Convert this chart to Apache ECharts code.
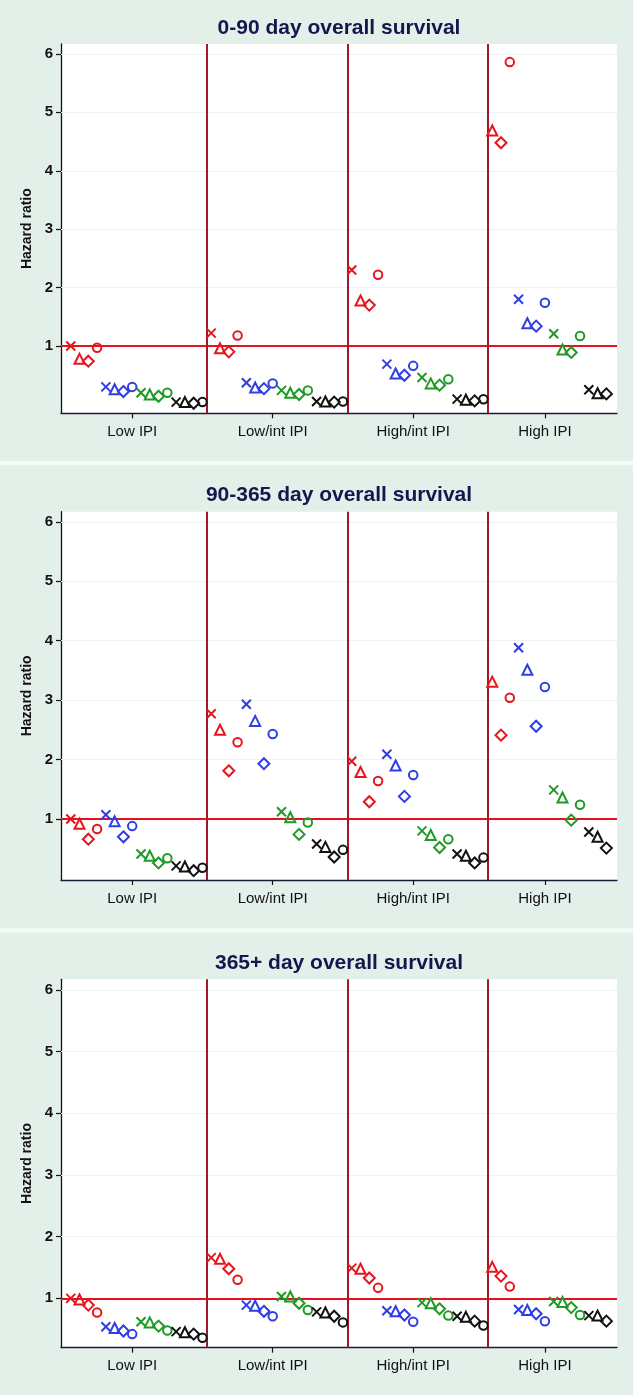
<!DOCTYPE html>
<html>
<head>
<meta charset="utf-8">
<script src="https://cdn.jsdelivr.net/npm/echarts@6/dist/echarts.min.js"></script>
<style>
html,body{margin:0;padding:0;background:#e3f0ea;}
#chart{width:633px;height:1395px;}
</style>
</head>
<body>
<div id="chart"></div>
<script>
// ---------- categories / ticks ----------
const groups = ['Low IPI', 'Low/int IPI', 'High/int IPI', 'High IPI'];
const groupTickPos = [8, 24, 40, 55];
const dividerPos = [16.5, 32.5, 48.5];
const yTickValues = [1, 2, 3, 4, 5, 6];
const panelTitles = ['0-90 day overall survival', '90-365 day overall survival', '365+ day overall survival'];
const colorNames = ['red', 'blue', 'green', 'black'];
const markerNames = ['x', 'tri', 'dia', 'circ'];

// ---------- Panel 1: 0-90 day (values per group: Low, Low/int, High/int, High) ----------
const p1_red_x     = [1.00, 1.22, 2.30, null];
const p1_red_tri   = [0.78, 0.96, 1.78, 4.69];
const p1_red_dia   = [0.74, 0.90, 1.70, 4.48];
const p1_red_circ  = [0.97, 1.18, 2.22, 5.86];
const p1_blue_x    = [0.30, 0.37, 0.69, 1.80];
const p1_blue_tri  = [0.26, 0.29, 0.53, 1.39];
const p1_blue_dia  = [0.22, 0.27, 0.50, 1.34];
const p1_blue_circ = [0.30, 0.36, 0.66, 1.74];
const p1_green_x    = [0.20, 0.24, 0.46, 1.21];
const p1_green_tri  = [0.17, 0.20, 0.36, 0.94];
const p1_green_dia  = [0.14, 0.17, 0.33, 0.89];
const p1_green_circ = [0.20, 0.24, 0.43, 1.17];
const p1_black_x    = [0.04, 0.05, 0.09, 0.25];
const p1_black_tri  = [0.04, 0.05, 0.08, 0.19];
const p1_black_dia  = [0.02, 0.04, 0.06, 0.18];
const p1_black_circ = [0.04, 0.05, 0.09, null];

// ---------- Panel 2: 90-365 day ----------
const p2_red_x     = [1.00, 2.77, 1.97, null];
const p2_red_tri   = [0.92, 2.50, 1.79, 3.31];
const p2_red_dia   = [0.66, 1.81, 1.29, 2.41];
const p2_red_circ  = [0.83, 2.29, 1.64, 3.04];
const p2_blue_x    = [1.07, 2.93, 2.09, 3.88];
const p2_blue_tri  = [0.96, 2.65, 1.90, 3.51];
const p2_blue_dia  = [0.70, 1.93, 1.38, 2.56];
const p2_blue_circ = [0.88, 2.43, 1.74, 3.22];
const p2_green_x    = [0.41, 1.12, 0.80, 1.49];
const p2_green_tri  = [0.38, 1.03, 0.73, 1.36];
const p2_green_dia  = [0.26, 0.74, 0.52, 0.98];
const p2_green_circ = [0.34, 0.94, 0.66, 1.24];
const p2_black_x    = [0.21, 0.58, 0.41, 0.78];
const p2_black_tri  = [0.20, 0.53, 0.38, 0.70];
const p2_black_dia  = [0.13, 0.36, 0.26, 0.51];
const p2_black_circ = [0.18, 0.48, 0.35, null];

// ---------- Panel 3: 365+ day ----------
const p3_red_x     = [1.00, 1.66, 1.49, null];
const p3_red_tri   = [0.98, 1.64, 1.48, 1.51];
const p3_red_dia   = [0.89, 1.48, 1.33, 1.36];
const p3_red_circ  = [0.77, 1.30, 1.17, 1.19];
const p3_blue_x    = [0.54, 0.89, 0.80, 0.82];
const p3_blue_tri  = [0.52, 0.88, 0.79, 0.81];
const p3_blue_dia  = [0.47, 0.79, 0.73, 0.75];
const p3_blue_circ = [0.42, 0.71, 0.62, 0.63];
const p3_green_x    = [0.62, 1.03, 0.93, 0.95];
const p3_green_tri  = [0.61, 1.03, 0.92, 0.94];
const p3_green_dia  = [0.55, 0.92, 0.83, 0.85];
const p3_green_circ = [0.48, 0.81, 0.72, 0.73];
const p3_black_x    = [0.46, 0.78, 0.71, 0.72];
const p3_black_tri  = [0.45, 0.77, 0.70, 0.72];
const p3_black_dia  = [0.42, 0.71, 0.63, 0.63];
const p3_black_circ = [0.36, 0.61, 0.56, null];

const panelData = [
  {red:{x:p1_red_x,tri:p1_red_tri,dia:p1_red_dia,circ:p1_red_circ},
   blue:{x:p1_blue_x,tri:p1_blue_tri,dia:p1_blue_dia,circ:p1_blue_circ},
   green:{x:p1_green_x,tri:p1_green_tri,dia:p1_green_dia,circ:p1_green_circ},
   black:{x:p1_black_x,tri:p1_black_tri,dia:p1_black_dia,circ:p1_black_circ}},
  {red:{x:p2_red_x,tri:p2_red_tri,dia:p2_red_dia,circ:p2_red_circ},
   blue:{x:p2_blue_x,tri:p2_blue_tri,dia:p2_blue_dia,circ:p2_blue_circ},
   green:{x:p2_green_x,tri:p2_green_tri,dia:p2_green_dia,circ:p2_green_circ},
   black:{x:p2_black_x,tri:p2_black_tri,dia:p2_black_dia,circ:p2_black_circ}},
  {red:{x:p3_red_x,tri:p3_red_tri,dia:p3_red_dia,circ:p3_red_circ},
   blue:{x:p3_blue_x,tri:p3_blue_tri,dia:p3_blue_dia,circ:p3_blue_circ},
   green:{x:p3_green_x,tri:p3_green_tri,dia:p3_green_dia,circ:p3_green_circ},
   black:{x:p3_black_x,tri:p3_black_tri,dia:p3_black_dia,circ:p3_black_circ}}
];

// ---------- styling ----------
const colorHex = {red:'#e8141c', blue:'#2f3ee4', green:'#1f9a24', black:'#111111'};
const markerSym = {
  x:   {symbol:'path://M0,0L10,10M10,0L0,10', size:9},
  tri: {symbol:'triangle', size:10},
  dia: {symbol:'diamond', size:11},
  circ:{symbol:'circle', size:8.5}
};
const geom = [
  {top:44,    height:369.3, yMin:-0.152, yMax:6.17},
  {top:511.7, height:368.3, yMin:-0.027, yMax:6.17},
  {top:979.3, height:368.4, yMin:0.2,    yMax:6.17}
];
const gridLeft = 61, gridRight = 16;
const xMin = -0.11, xMax = 63.21;

const grids = [], xAxes = [], yAxes = [], series = [], graphics = [];

geom.forEach((g, p) => {
  grids.push({left:gridLeft, right:gridRight, top:g.top, height:g.height,
    show:true, backgroundColor:'#ffffff', borderWidth:0});
  xAxes.push({type:'value', gridIndex:p, min:xMin, max:xMax,
    axisLine:{show:true, onZero:false, lineStyle:{color:'#1b1b3a', width:1.3}},
    axisTick:{show:true, customValues:groupTickPos, length:5, lineStyle:{color:'#111', width:1.2}},
    axisLabel:{show:true, customValues:groupTickPos, margin:11, color:'#111',
      fontFamily:'Liberation Sans, Arial, sans-serif', fontSize:15,
      formatter:(v)=>{const i=groupTickPos.indexOf(v); return i>=0?groups[i]:'';}},
    splitLine:{show:false}});
  yAxes.push({type:'value', gridIndex:p, min:g.yMin, max:g.yMax,
    axisLine:{show:true, onZero:false, lineStyle:{color:'#111', width:1.3}},
    axisTick:{show:true, customValues:yTickValues, length:5, lineStyle:{color:'#111', width:1.2}},
    axisLabel:{show:true, customValues:yTickValues, margin:8, color:'#111',
      fontFamily:'Liberation Sans, Arial, sans-serif', fontSize:15, fontWeight:'bold',
      formatter:(v)=>String(Math.round(v))},
    splitLine:{show:false}});

  // reference lines (grid lines, HR=1 line, group dividers) drawn beneath the markers
  const mlData = [];
  yTickValues.forEach(v => { if (v !== 1) mlData.push({yAxis:v, lineStyle:{color:'#edf3f0', width:1, type:'solid'}}); });
  mlData.push({yAxis:1, lineStyle:{color:'#e3121c', width:2, type:'solid'}});
  dividerPos.forEach(v => mlData.push({xAxis:v, lineStyle:{color:'#a3172c', width:2, type:'solid'}}));
  series.push({type:'scatter', xAxisIndex:p, yAxisIndex:p, data:[], z:1, silent:true,
    markLine:{silent:true, z:1, symbol:['none','none'], label:{show:false}, animation:false, data:mlData}});

  // points: positions are sequential across groups, skipping missing estimates
  const d = panelData[p];
  const pts = {};
  colorNames.forEach(c => markerNames.forEach(m => pts[c+'_'+m] = []));
  let idx = 0;
  for (let gi = 0; gi < groups.length; gi++) {
    colorNames.forEach(c => markerNames.forEach(m => {
      const v = d[c][m][gi];
      if (v !== null && v !== undefined) { idx++; pts[c+'_'+m].push([idx, v]); }
    }));
  }
  colorNames.forEach(c => markerNames.forEach(m => {
    series.push({type:'scatter', xAxisIndex:p, yAxisIndex:p, z:6, silent:true,
      symbol:markerSym[m].symbol, symbolSize:markerSym[m].size,
      itemStyle:{color:'rgba(0,0,0,0)', borderColor:colorHex[c], borderWidth:2, opacity:1},
      data:pts[c+'_'+m]});
  }));

  // title and y-axis name
  graphics.push({type:'text', x:339, y:g.top-16, silent:true,
    style:{text:panelTitles[p], fill:'#16164f', font:'bold 21px "Liberation Sans", Arial, sans-serif',
      align:'center', verticalAlign:'middle'}});
  graphics.push({type:'text', x:27, y:g.top + g.height/2, rotation:Math.PI/2, silent:true,
    style:{text:'Hazard ratio', fill:'#111', font:'bold 14px "Liberation Sans", Arial, sans-serif',
      align:'center', verticalAlign:'middle'}});
});

// light separator bands between the stacked graphs
graphics.push({type:'rect', shape:{x:0, y:461, width:633, height:4}, style:{fill:'#f3fbf7'}, silent:true, z:-1});
graphics.push({type:'rect', shape:{x:0, y:928.5, width:633, height:4}, style:{fill:'#f3fbf7'}, silent:true, z:-1});

const chart = echarts.init(document.getElementById('chart'), null, {renderer:'canvas'});
chart.setOption({
  backgroundColor:'#e3f0ea',
  animation:false,
  grid:grids, xAxis:xAxes, yAxis:yAxes, series:series, graphic:graphics
});
</script>
</body>
</html>
